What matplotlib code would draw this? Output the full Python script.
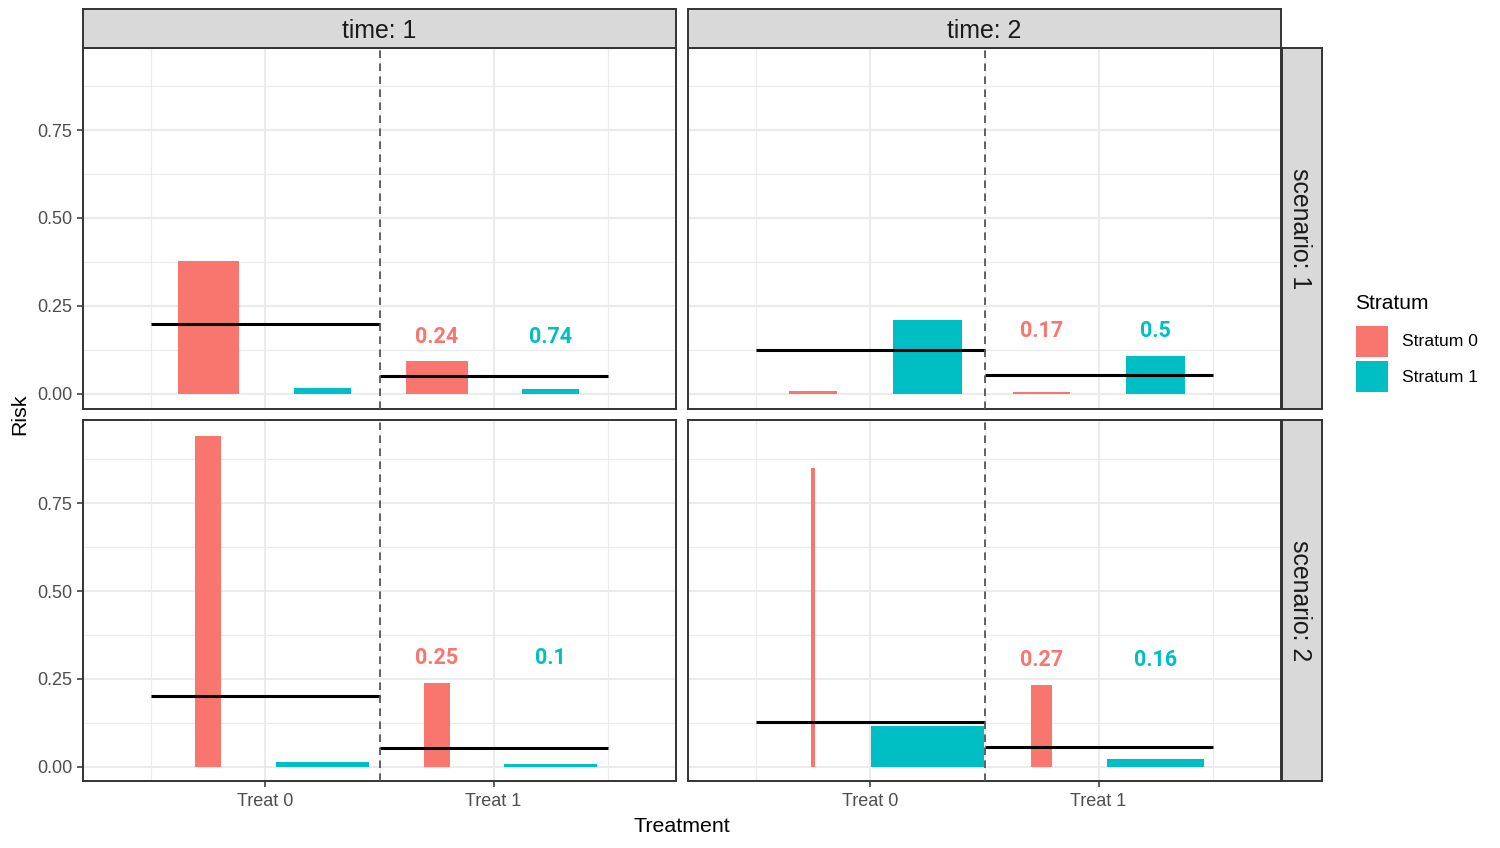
import matplotlib
matplotlib.use("Agg")
import matplotlib.pyplot as plt
from matplotlib.patches import Rectangle

plt.rcParams['font.family'] = ['Liberation Sans', 'DejaVu Sans']

# data, panel order: (scenario 1, time 1), (1, 2), (2, 1), (2, 2)
treatments = ["Treat 0", "Treat 1"]
strata = ["Stratum 0", "Stratum 1"]
scenario = [1, 1, 2, 2]
time = [1, 2, 1, 2]
risk_stratum0 = [[0.378, 0.094], [0.007, 0.004], [0.942, 0.238], [0.850, 0.232]]
risk_stratum1 = [[0.016, 0.014], [0.209, 0.107], [0.013, 0.007], [0.116, 0.021]]
width_stratum0 = [[0.268, 0.272], [0.210, 0.250], [0.114, 0.114], [0.018, 0.092]]
width_stratum1 = [[0.250, 0.250], [0.303, 0.259], [0.404, 0.408], [0.496, 0.425]]
overall_risk = [[0.197, 0.050], [0.123, 0.052], [0.201, 0.053], [0.127, 0.055]]
label_stratum0 = ["0.24", "0.17", "0.25", "0.27"]
label_stratum1 = ["0.74", "0.5", "0.1", "0.16"]
label_y = [0.162, 0.177, 0.309, 0.303]

pink = '#F8766D'
cyan = '#00BFC4'
border = '#333333'

W, H = 1500, 848
fig = plt.figure(figsize=(15, 8.48), dpi=100)


# add axes from pixel box (left, top, right, bottom)
def px_axes(l, t, r, b):
    return fig.add_axes([l / W, 1 - b / H, (r - l) / W, (b - t) / H])


col_x = [(83, 676), (688, 1281)]
row_y = [(48, 409), (420, 781)]
row_ylim = [(-0.044, 0.984), (-0.041, 0.987)]

for i in range(4):
    row = scenario[i] - 1
    col = time[i] - 1
    ax = px_axes(col_x[col][0], row_y[row][0], col_x[col][1], row_y[row][1])
    ax.set_xlim(0.2, 2.8)
    ax.set_ylim(*row_ylim[row])
    ax.set_axisbelow(True)
    ax.set_xticks([1, 2])
    ax.set_xticks([0.5, 1.5, 2.5], minor=True)
    ax.set_yticks([0, 0.25, 0.5, 0.75])
    ax.set_yticks([0.125, 0.375, 0.625, 0.875], minor=True)
    ax.grid(which='major', color='#EBEBEB', lw=1.5)
    ax.grid(which='minor', color='#EBEBEB', lw=0.8)
    ax.tick_params(which='minor', length=0)
    ax.tick_params(which='major', length=4, width=1.1, color=border,
                   labelcolor='#4D4D4D', labelsize=13)
    ax.tick_params(axis='x', pad=5)
    for s in ax.spines.values():
        s.set_color(border)
        s.set_linewidth(1.4)
    if row == 1:
        ax.set_xticklabels(treatments)
    else:
        ax.tick_params(axis='x', length=0, labelbottom=False)
    if col == 0:
        ax.set_yticklabels(["0.00", "0.25", "0.50", "0.75"])
    else:
        ax.tick_params(axis='y', length=0, labelleft=False)

    xpos = [1, 2]
    ax.bar([x - 0.25 for x in xpos], risk_stratum0[i], width=width_stratum0[i],
           color=pink, zorder=2)
    ax.bar([x + 0.25 for x in xpos], risk_stratum1[i], width=width_stratum1[i],
           color=cyan, zorder=2)
    ax.hlines(overall_risk[i], [x - 0.5 for x in xpos], [x + 0.5 for x in xpos],
              color='black', lw=2.2, zorder=3)
    ax.axvline(1.5, color='#555555', lw=1.3, dashes=(4.2, 3.0), zorder=4)

    ax.text(1.75, label_y[i], label_stratum0[i], color=pink, fontsize=15.5,
            fontweight='bold', ha='center', va='center', family='Roboto')
    ax.text(2.25, label_y[i], label_stratum1[i], color=cyan, fontsize=15.5,
            fontweight='bold', ha='center', va='center', family='Roboto')

# strips
for col in range(2):
    sa = px_axes(col_x[col][0], 9, col_x[col][1], 48)
    sa.set_facecolor('#D9D9D9')
    sa.set_xticks([])
    sa.set_yticks([])
    for s in sa.spines.values():
        s.set_color(border)
        s.set_linewidth(1.4)
    sa.text(0.5, 0.44, "time: %d" % (col + 1), transform=sa.transAxes,
            ha='center', va='center', fontsize=17.9, color='#1A1A1A')

for row in range(2):
    sa = px_axes(1282, row_y[row][0], 1322, row_y[row][1])
    sa.set_facecolor('#D9D9D9')
    sa.set_xticks([])
    sa.set_yticks([])
    for s in sa.spines.values():
        s.set_color(border)
        s.set_linewidth(1.4)
    sa.text(0.45, 0.5, "scenario: %d" % (row + 1), transform=sa.transAxes,
            ha='center', va='center', fontsize=17.9, color='#1A1A1A', rotation=-90)

# axis titles
fig.text(682 / W, 1 - 826 / H, "Treatment", ha='center', va='center', fontsize=15.4)
fig.text(20 / W, 1 - 414 / H, "Risk", ha='center', va='center', fontsize=15.4,
         rotation=90)

# legend, drawn by hand to match the ggplot guide
fig.text(1355 / W, 1 - 304 / H, "Stratum", ha='left', va='center', fontsize=15)
for k, (name, colr) in enumerate(zip(strata, [pink, cyan])):
    top = 326 + k * 35
    fig.add_artist(Rectangle((1356 / W, 1 - (top + 31) / H), 32 / W, 31 / H,
                             transform=fig.transFigure, facecolor=colr,
                             edgecolor='none'))
    fig.text(1402 / W, 1 - (top + 16) / H, name, ha='left', va='center',
             fontsize=12.6)

fig.savefig("out.png", dpi=100)
